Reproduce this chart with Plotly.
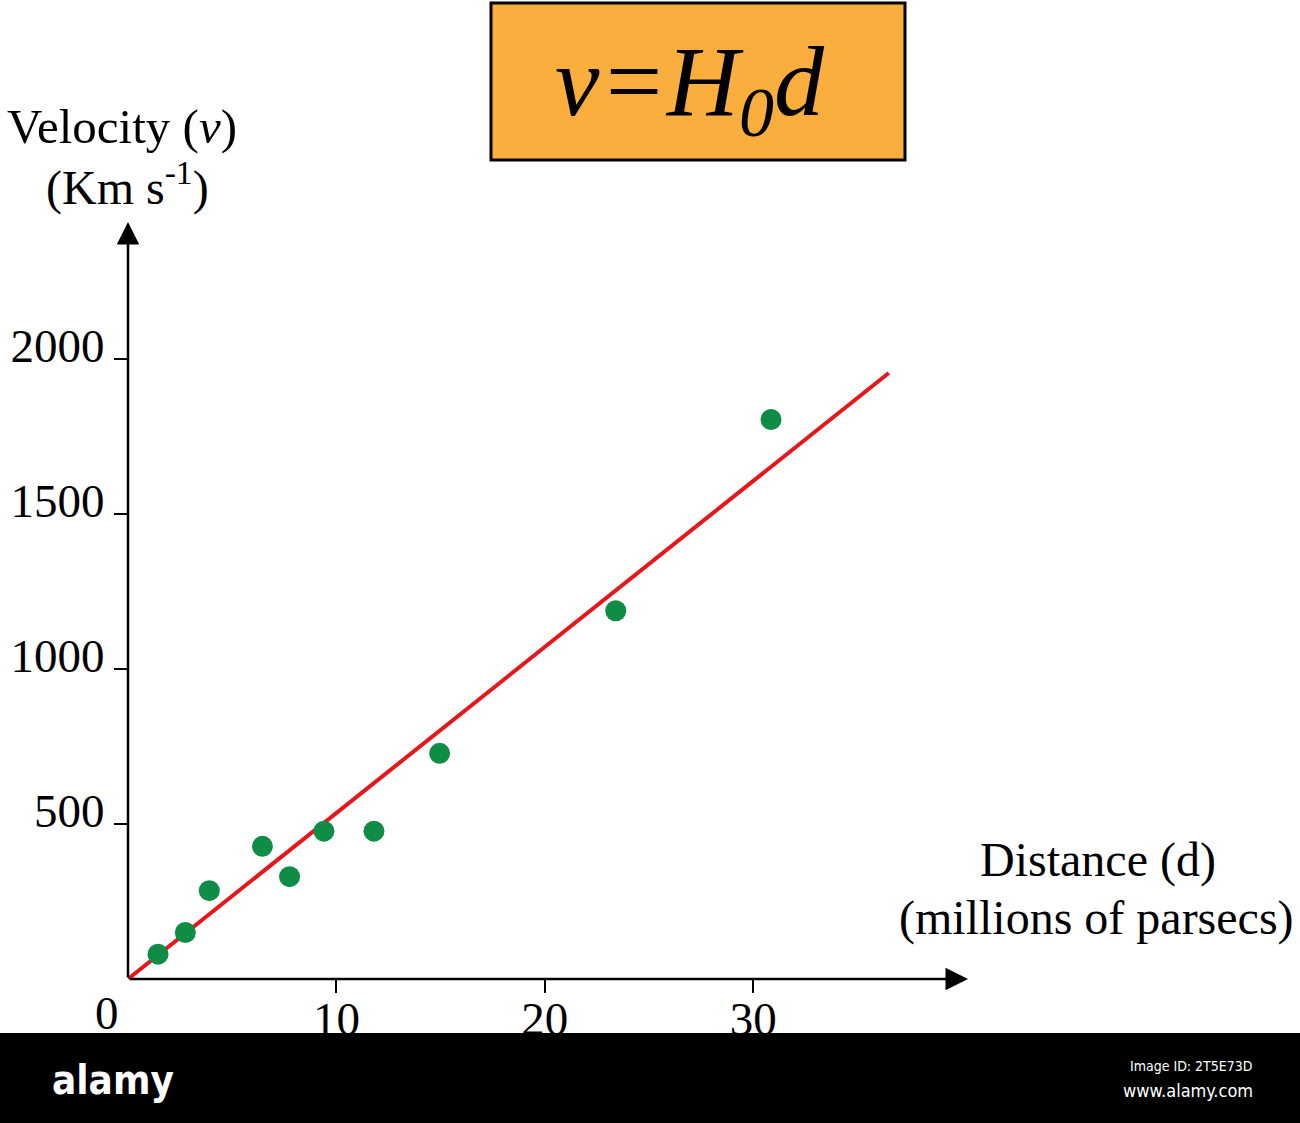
import plotly.graph_objects as go

# ---- data ----
distance = [1.44, 2.75, 3.9, 6.45, 7.75, 9.4, 11.8, 14.95, 23.4, 30.85]
velocity = [80, 150, 285, 428, 330, 477, 477, 728, 1188, 1805]
fit_x = [0, 36.5]
fit_y = [0, 1955]
x_ticks = [10, 20, 30]
y_ticks = [500, 1000, 1500, 2000]
x_max = 40.3
y_max = 2442

W, H = 1300, 1123
L, R, T, B = 128, 332, 222, 144
PW, PH = W - L - R, H - T - B

def px(x):
    return (x - L) / PW

def py(y):
    return (H - B - y) / PH

serif = "Liberation Serif, Times New Roman, serif"
cond = "DejaVu Sans Condensed, Liberation Sans Narrow, sans-serif"

fig = go.Figure()
fig.add_trace(go.Scatter(x=fit_x, y=fit_y, mode="lines",
                         line=dict(color="#e8151b", width=4), hoverinfo="skip"))
fig.add_trace(go.Scatter(x=distance, y=velocity, mode="markers",
                         marker=dict(color="#0f8c46", size=21), hoverinfo="skip"))

def label(x, y, text, size, family=serif, color="black", xanchor="center"):
    return dict(x=px(x), y=py(y), xref="paper", yref="paper", text=text,
                xanchor=xanchor, yanchor="middle", showarrow=False,
                font=dict(family=family, size=size, color=color))

annotations = [
    # axes with arrowheads
    dict(x=x_max, y=0, ax=0, ay=0, xref="x", yref="y", axref="x", ayref="y",
         text="", showarrow=True, arrowhead=2, arrowsize=1.8, arrowwidth=2.5,
         arrowcolor="black", standoff=0),
    dict(x=0, y=y_max, ax=0, ay=0, xref="x", yref="y", axref="x", ayref="y",
         text="", showarrow=True, arrowhead=2, arrowsize=1.8, arrowwidth=2.5,
         arrowcolor="black", standoff=0),
    label(107, 1013, "0", 47),
    label(122, 126, "Velocity (<i>ν</i>)", 49),
    label(127, 185, "(Km s<sup>-1</sup>)", 48),
    label(1098, 860, "Distance (d)", 48),
    label(1096, 918, "(millions of parsecs)", 48),
    label(690, 88, "<i>ν=H<sub>0</sub>d</i>", 100),
    # banner text
    label(50, 1080, "<b>alamy</b>", 40, family=cond, color="white", xanchor="left"),
    label(1255, 1066, "Image ID: 2T5E73D", 14, family=cond, color="white", xanchor="right"),
    label(1255, 1090, "www.alamy.com", 18, family=cond, color="white", xanchor="right"),
]

shapes = [
    dict(type="rect", xref="paper", yref="paper",
         x0=px(491), x1=px(905), y0=py(160), y1=py(3),
         fillcolor="#f9ae3d", line=dict(color="black", width=3), layer="below"),
    dict(type="rect", xref="paper", yref="paper",
         x0=px(-5), x1=px(1305), y0=py(1128), y1=py(1033),
         fillcolor="black", line=dict(width=0), layer="above"),
]

fig.update_layout(
    width=W, height=H,
    margin=dict(l=L, r=R, t=T, b=B),
    paper_bgcolor="white", plot_bgcolor="white",
    showlegend=False,
    annotations=annotations, shapes=shapes,
    xaxis=dict(range=[0, x_max], tickvals=x_ticks, ticktext=[str(v) for v in x_ticks],
               ticks="outside", ticklen=13, tickwidth=2.2, tickcolor="black",
               showgrid=False, zeroline=False, showline=False, ticklabelstandoff=-14,
               tickfont=dict(family=serif, size=47, color="black")),
    yaxis=dict(range=[0, y_max], tickvals=y_ticks, ticktext=[str(v) for v in y_ticks],
               ticks="outside", ticklen=13, tickwidth=2.2, tickcolor="black",
               showgrid=False, zeroline=False, showline=False, ticklabelshift=-13,
               tickfont=dict(family=serif, size=47, color="black")),
)

fig.write_html("out.html", config={"displayModeBar": False},
               post_script="document.body.style.margin='0';")
